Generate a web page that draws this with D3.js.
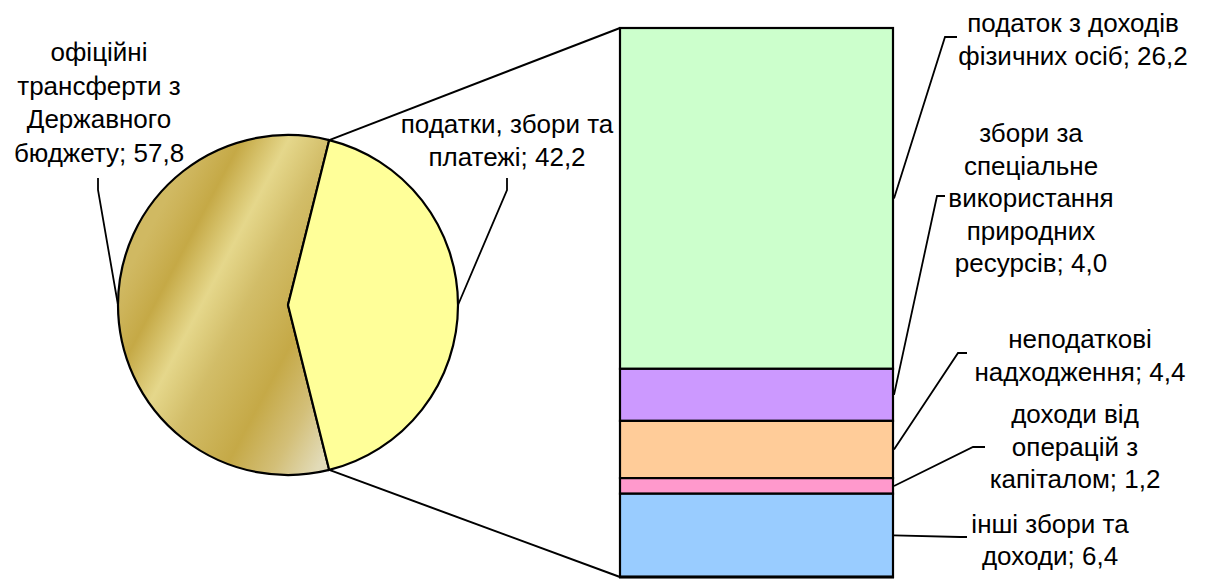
<!DOCTYPE html>
<html>
<head>
<meta charset="utf-8">
<script src="https://cdn.jsdelivr.net/npm/d3@7"></script>
<style>
  html, body { margin: 0; padding: 0; background: #ffffff; }
  svg { display: block; }
  text { font-family: "Liberation Sans", Arial, sans-serif; font-size: 26px; fill: #000; }
</style>
</head>
<body>
<svg id="chart" width="1211" height="580"></svg>
<script>
// ---- data ----
const pieCategories = ["офіційні трансферти з Державного бюджету", "податки, збори та платежі"];
const pieValues = [57.8, 42.2];
const barCategories = [
  "податок з доходів фізичних осіб",
  "збори за спеціальне використання природних ресурсів",
  "неподаткові надходження",
  "доходи від операцій з капіталом",
  "інші збори та доходи"
];
const barValues = [26.2, 4.0, 4.4, 1.2, 6.4];

// ---- layout ----
const svg = d3.select("#chart");
const cx = 288, cy = 305, R = 170;
const barX0 = 620, barX1 = 893, barTop = 28, barBottom = 577;
const pieColorsSolid = [null, "#ffff99"];
const barColors = ["#ccffcc", "#cc99ff", "#ffcc99", "#ff99cc", "#99ccff"];

const fmt = v => d3.format(".1f")(v).replace(".", ",");

// gold gradient
const defs = svg.append("defs");
const ux = 0.884, uy = 0.467;
const grad = defs.append("linearGradient")
  .attr("id", "gold").attr("gradientUnits", "userSpaceOnUse")
  .attr("x1", 240 * ux).attr("y1", 240 * uy)
  .attr("x2", 500 * ux).attr("y2", 500 * uy);
[[0, "#d0b962"], [0.05, "#cdb45a"], [0.15, "#c5a946"], [0.31, "#e5d78b"],
 [0.46, "#d2bd68"], [0.685, "#c5a947"], [0.85, "#d3bf78"], [1, "#e2dbb8"]]
  .forEach(([o, c]) => grad.append("stop").attr("offset", o).attr("stop-color", c));

// ---- pie ----
const total = d3.sum(pieValues);
const otherFrac = pieValues[1] / total;
const start = Math.PI / 2 + otherFrac * Math.PI;
const pie = d3.pie().sort(null).startAngle(start).endAngle(start + 2 * Math.PI);
const arcs = pie(pieValues);
const arc = d3.arc().innerRadius(0).outerRadius(R);

// connector lines from the slice to the bar
const yBar = d3.scaleLinear().domain([0, d3.sum(barValues)]).range([barTop, barBottom]);
const edgePt = a => [cx + R * Math.sin(a), cy - R * Math.cos(a)];
const pTop = edgePt(arcs[1].startAngle);
const pBot = edgePt(arcs[1].endAngle);
svg.append("line").attr("x1", pTop[0]).attr("y1", pTop[1]).attr("x2", barX0).attr("y2", yBar(0))
  .attr("stroke", "#000").attr("stroke-width", 2);
svg.append("line").attr("x1", pBot[0]).attr("y1", pBot[1]).attr("x2", barX0).attr("y2", yBar(d3.sum(barValues)))
  .attr("stroke", "#000").attr("stroke-width", 2);

const pieG = svg.append("g").attr("transform", `translate(${cx},${cy})`);
pieG.selectAll("path").data(arcs).join("path")
  .attr("d", arc)
  .attr("fill", (d, i) => i === 0 ? "url(#gold)" : pieColorsSolid[i])
  .attr("stroke", "#000").attr("stroke-width", 2.2).attr("stroke-linejoin", "miter");
grad.attr("gradientTransform", `translate(${-cx},${-cy})`);

// ---- bar ----
const cum = [];
barValues.reduce((acc, v, i) => { cum[i] = acc; return acc + v; }, 0);
svg.append("g").selectAll("rect").data(barValues).join("rect")
  .attr("x", barX0).attr("width", barX1 - barX0)
  .attr("y", (d, i) => yBar(cum[i]))
  .attr("height", (d, i) => yBar(cum[i] + d) - yBar(cum[i]))
  .attr("fill", (d, i) => barColors[i])
  .attr("stroke", "#000").attr("stroke-width", 2.2);
svg.append("line").attr("x1", barX0 - 1).attr("x2", barX1 + 1)
  .attr("y1", yBar(d3.sum(barValues))).attr("y2", yBar(d3.sum(barValues)))
  .attr("stroke", "#000").attr("stroke-width", 3);

// ---- labels ----
function splitLines(text, counts) {
  const words = text.split(" ");
  const out = []; let k = 0;
  counts.forEach(c => { out.push(words.slice(k, k + c).join(" ")); k += c; });
  return out;
}
const pieLabelLayout = [
  { x: 99, y: 61, lh: 33.5, counts: [1, 2, 1, 2], tick: [[98, 178], [98, 190]] },
  { x: 507, y: 133, lh: 33, counts: [3, 2], tick: [[507, 178], [507, 190]] }
];
const barLabelLayout = [
  { x: 1073, y: 32, lh: 32.7, counts: [3, 3], tick: [[957, 37], [945, 37]] },
  { x: 1031, y: 142, lh: 32.5, counts: [2, 1, 1, 1, 2], tick: [[945, 196], [937, 196]] },
  { x: 1080, y: 348, lh: 32.7, counts: [1, 2], tick: [[967, 353], [958, 353]] },
  { x: 1075, y: 423, lh: 32.7, counts: [2, 2, 2], tick: [[985, 447], [973, 447]] },
  { x: 1050, y: 533, lh: 31.5, counts: [3, 2], tick: [[967, 537], [960, 537]] }
];

function drawLabel(text, lay, end) {
  const lines = splitLines(text, lay.counts);
  const t = svg.append("text").attr("text-anchor", "middle");
  lines.forEach((ln, i) => t.append("tspan").attr("x", lay.x).attr("y", lay.y + i * lay.lh).text(ln));
  const pts = [lay.tick[0], lay.tick[1], end];
  svg.append("path").attr("d", d3.line()(pts)).attr("fill", "none")
    .attr("stroke", "#000").attr("stroke-width", 1.8);
}

arcs.forEach((a, i) => {
  const mid = (a.startAngle + a.endAngle) / 2;
  drawLabel(pieCategories[i] + "; " + fmt(pieValues[i]), pieLabelLayout[i], edgePt(mid));
});
barValues.forEach((v, i) => {
  drawLabel(barCategories[i] + "; " + fmt(v), barLabelLayout[i], [barX1 + 1, yBar(cum[i] + v / 2)]);
});
</script>
</body>
</html>
